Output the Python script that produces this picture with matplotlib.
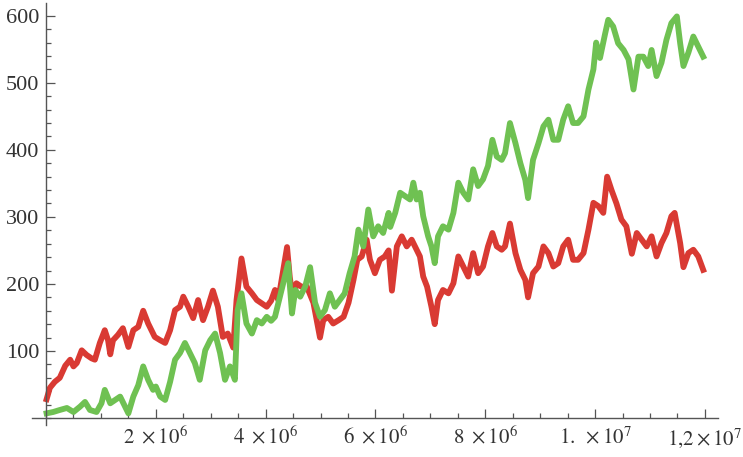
import matplotlib
matplotlib.use("Agg")
import matplotlib.pyplot as plt
from matplotlib.ticker import FixedLocator, MultipleLocator

# sample positions in units of 1e6 steps and the two walk values
red_x = [0.01, 0.07, 0.16, 0.25, 0.35, 0.44, 0.5, 0.56, 0.65, 0.74, 0.83, 0.89, 0.98,
         1.07, 1.13, 1.17, 1.22, 1.31, 1.40, 1.50, 1.59, 1.68, 1.77, 1.86, 1.98,
         2.08, 2.17, 2.26, 2.35, 2.44, 2.50, 2.59, 2.68, 2.77, 2.86, 2.95, 3.04,
         3.13, 3.22, 3.31, 3.41, 3.47, 3.56, 3.65, 3.75, 3.84, 3.93, 4.02, 4.10,
         4.17, 4.23, 4.32, 4.39, 4.44, 4.50, 4.56, 4.65, 4.75, 4.87, 4.99, 5.05,
         5.14, 5.23, 5.33, 5.42, 5.51, 5.60, 5.67, 5.75, 5.84, 5.90, 5.99, 6.08,
         6.17, 6.24, 6.30, 6.39, 6.48, 6.57, 6.66, 6.75, 6.81, 6.87, 6.94, 7.02,
         7.08, 7.14, 7.23, 7.33, 7.42, 7.51, 7.60, 7.69, 7.78, 7.87, 7.96, 8.05,
         8.13, 8.21, 8.30, 8.36, 8.45, 8.55, 8.64, 8.73, 8.78, 8.87, 8.97, 9.06,
         9.15, 9.24, 9.33, 9.42, 9.51, 9.60, 9.69, 9.79, 9.88, 9.97, 10.06, 10.15,
         10.22, 10.30, 10.39, 10.48, 10.57, 10.67, 10.76, 10.85, 10.94, 11.03,
         11.12, 11.21, 11.30, 11.39, 11.45, 11.55, 11.61, 11.70, 11.79, 11.88, 11.97]
red_y = [28, 45, 54, 60, 78, 87, 77, 82, 101, 94, 89, 87, 112,
         131, 116, 95, 116, 124, 134, 106, 131, 136, 160, 141, 121,
         116, 112, 131, 161, 166, 181, 166, 149, 176, 146, 166, 190,
         166, 121, 126, 105, 176, 238, 196, 186, 176, 171, 166, 175,
         191, 176, 221, 255, 210, 176, 201, 196, 196, 172, 120, 146,
         151, 141, 146, 151, 172, 206, 236, 241, 266, 236, 216, 236,
         241, 250, 190, 256, 271, 256, 266, 251, 241, 211, 196, 166,
         140, 176, 191, 186, 201, 241, 226, 211, 246, 216, 226, 256,
         276, 256, 251, 256, 290, 246, 221, 206, 180, 216, 226, 256,
         246, 226, 231, 256, 266, 236, 236, 246, 281, 321, 316, 306,
         360, 340, 320, 296, 286, 245, 276, 266, 256, 271,
         241, 261, 276, 301, 306, 261, 225, 246, 251, 241, 221]

green_x = [0.01, 0.13, 0.25, 0.38, 0.5, 0.62, 0.71, 0.80, 0.92, 1.01, 1.07, 1.17,
           1.26, 1.35, 1.44, 1.50, 1.59, 1.68, 1.77, 1.86, 1.95, 2.00, 2.08, 2.17,
           2.26, 2.35, 2.44, 2.53, 2.62, 2.71, 2.80, 2.90, 2.99, 3.08, 3.17, 3.26,
           3.35, 3.44, 3.49, 3.56, 3.65, 3.75, 3.84, 3.93, 4.02, 4.10, 4.17, 4.26,
           4.35, 4.41, 4.48, 4.54, 4.63, 4.72, 4.81, 4.90, 4.99, 5.08, 5.17, 5.26,
           5.35, 5.44, 5.53, 5.62, 5.69, 5.78, 5.87, 5.96, 6.05, 6.14, 6.24, 6.27,
           6.36, 6.45, 6.54, 6.63, 6.69, 6.75, 6.81, 6.87, 6.96, 7.02, 7.08, 7.14,
           7.23, 7.33, 7.42, 7.51, 7.60, 7.69, 7.78, 7.87, 7.96, 8.05, 8.13, 8.21,
           8.30, 8.36, 8.45, 8.55, 8.64, 8.73, 8.78, 8.87, 8.97, 9.06, 9.15, 9.24,
           9.33, 9.42, 9.51, 9.60, 9.69, 9.79, 9.88, 9.97, 10.02, 10.09, 10.18,
           10.24, 10.33, 10.42, 10.52, 10.61, 10.70, 10.79, 10.88, 10.97, 11.03,
           11.12, 11.21, 11.30, 11.39, 11.49, 11.55, 11.61, 11.70, 11.79, 11.88, 11.97]
green_y = [7, 9, 12, 15, 9, 17, 24, 12, 9, 22, 42, 22,
           27, 32, 17, 7, 32, 49, 77, 57, 42, 47, 32, 27,
           54, 87, 97, 112, 97, 82, 57, 101, 116, 126, 97, 57,
           77, 57, 161, 186, 141, 126, 146, 141, 151, 145, 151, 181,
           211, 231, 156, 191, 181, 196, 225, 172, 151, 161, 186, 166,
           176, 186, 216, 241, 281, 256, 311, 271, 286, 276, 306, 285,
           306, 336, 331, 326, 351, 326, 336, 301, 271, 256, 231, 271,
           286, 281, 306, 351, 336, 326, 371, 346, 356, 376, 415, 390,
           385, 395, 440, 410, 380, 355, 328, 385, 410, 435, 445, 415,
           415, 445, 465, 440, 440, 450, 490, 520, 560, 537, 572,
           594, 584, 559, 549, 535, 490, 539, 539, 525, 549,
           510, 530, 564, 589, 599, 559, 525, 545, 569, 554, 539]

x_ticks = [2e6, 4e6, 6e6, 8e6, 1e7, 1.2e7]
x_labels = [r"$2\ \times10^{6}$", r"$4\ \times10^{6}$", r"$6\ \times10^{6}$",
            r"$8\ \times10^{6}$", r"$1.\ \times10^{7}$", r"$1{,}2\times10^{7}$"]
y_ticks = [100, 200, 300, 400, 500, 600]

plt.rcParams["font.family"] = "Liberation Serif"
plt.rcParams["mathtext.fontset"] = "stix"

fig = plt.figure(figsize=(7.43, 4.57), dpi=100)
ax = fig.add_axes([0.0431, 0.070, 0.9233, 0.9234])

ax.plot([v * 1e6 for v in red_x], red_y, color="#d93a33", lw=4.2, solid_joinstyle="round")
ax.plot([v * 1e6 for v in green_x], green_y, color="#6fc152", lw=4.2, solid_joinstyle="round")

ax.set_xlim(-0.255e6, 12.24e6)
ax.set_ylim(-10.4, 619)

# axes cross at the origin
for side in ["top", "right"]:
    ax.spines[side].set_visible(False)
for side in ["left", "bottom"]:
    ax.spines[side].set_position(("data", 0))
    ax.spines[side].set_color("#555555")
    ax.spines[side].set_linewidth(1.0)

ax.xaxis.set_major_locator(FixedLocator(x_ticks))
ax.xaxis.set_minor_locator(MultipleLocator(5e5))
ax.set_xticklabels(x_labels)
ax.yaxis.set_major_locator(FixedLocator(y_ticks))
ax.yaxis.set_minor_locator(MultipleLocator(20))

ax.tick_params(which="both", direction="in", colors="#555555", width=0.9)
ax.tick_params(which="major", length=6.5)
ax.tick_params(which="minor", length=3.5)
ax.tick_params(axis="x", which="major", pad=6, labelsize=15, labelcolor="#333333")
ax.tick_params(axis="y", which="major", pad=5, labelsize=16, labelcolor="#333333")

fig.savefig("out.png", dpi=100, facecolor="white")
